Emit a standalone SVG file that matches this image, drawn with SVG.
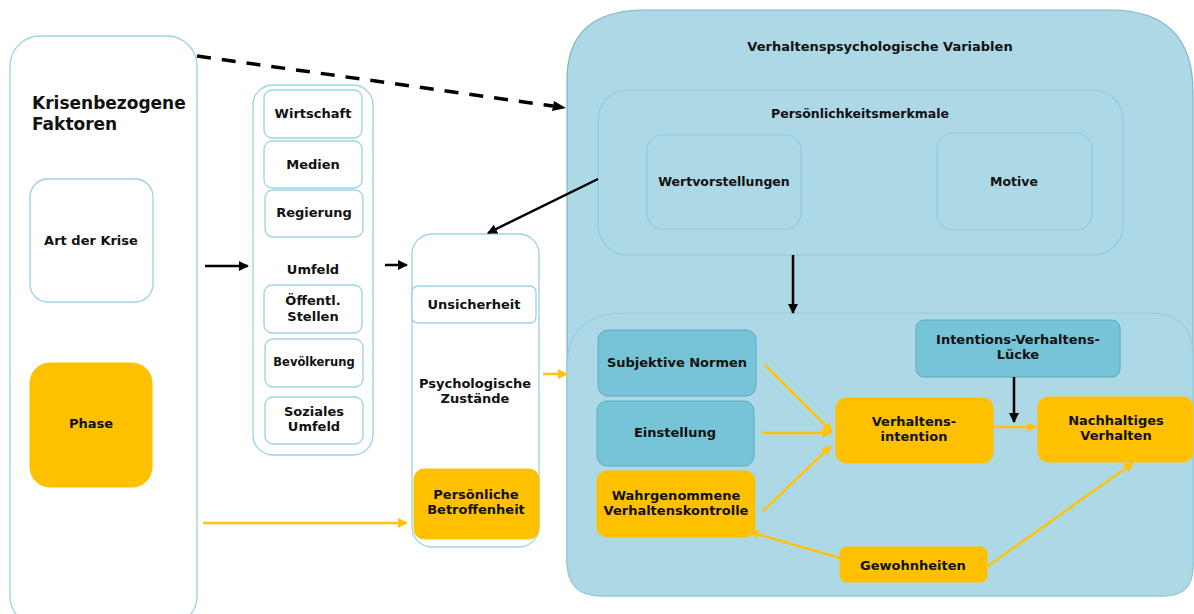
<svg xmlns="http://www.w3.org/2000/svg" width="1194" height="614" viewBox="0 0 1194 614">
<defs>
<style>
text{font-family:"DejaVu Sans","Liberation Sans",sans-serif;font-weight:bold;fill:#111;text-anchor:middle;font-size:13px}
.t{font-size:12.5px}
.white{fill:#fff;stroke:#9ad3e3;stroke-width:1.3}
.orange{fill:#FFC000;stroke:#FFC000}
.blue{fill:#76C4D7;stroke:#5FA8BC;stroke-width:1}
.lb{fill:#ADD9E6;stroke:#7FB4C5;stroke-width:1.2}
.inner{fill:#ADD9E6;stroke:#92CADB;stroke-width:1.2}
.c{fill:none;stroke:#ffc20e;stroke-width:2.5}
.k{fill:none;stroke:#000;stroke-width:2.5}
</style>
<marker id="ao" viewBox="0 0 10 10" refX="9" refY="5" markerWidth="4" markerHeight="4" orient="auto" markerUnits="strokeWidth"><path d="M0,0 L10,5 L0,10 z" fill="#ffc20e"/></marker>
<marker id="ak" viewBox="0 0 10 10" refX="9" refY="5" markerWidth="4" markerHeight="4" orient="auto" markerUnits="strokeWidth"><path d="M0,0 L10,5 L0,10 z" fill="#000"/></marker>
</defs>
<rect width="1194" height="614" fill="#fff"/>

<g id="krisen">
<rect class="white" x="10" y="36" width="187" height="590" rx="30"/>
<text x="32" y="109" style="font-size:17px;text-anchor:start">Krisenbezogene</text>
<text x="32" y="130" style="font-size:17px;text-anchor:start">Faktoren</text>
</g>
<g id="art"><rect class="white" x="30" y="179" width="123" height="123" rx="18"/><text x="91" y="245">Art der Krise</text></g>
<g id="phase"><rect class="orange" x="30" y="363" width="122" height="124" rx="20"/><text x="91" y="428">Phase</text></g>

<g id="umfeld">
<rect class="white" x="253" y="85" width="120" height="370" rx="20"/>
<text x="313" y="274">Umfeld</text>
</g>
<g id="wirtschaft"><rect class="white" x="264" y="90" width="98" height="48" rx="8"/><text x="313" y="118">Wirtschaft</text></g>
<g id="medien"><rect class="white" x="264" y="141" width="98" height="47" rx="8"/><text x="313" y="169">Medien</text></g>
<g id="regierung"><rect class="white" x="265" y="190" width="98" height="47" rx="8"/><text x="314" y="217">Regierung</text></g>
<g id="oeffentl"><rect class="white" x="264" y="285" width="98" height="48" rx="8"/><text x="313" y="305">Öffentl.</text><text x="313" y="321">Stellen</text></g>
<g id="bevoelkerung"><rect class="white" x="265" y="339" width="98" height="48" rx="8"/><text x="314" y="366" style="font-size:11.5px">Bevölkerung</text></g>
<g id="soziales"><rect class="white" x="265" y="397" width="98" height="47" rx="8"/><text x="314" y="416">Soziales</text><text x="314" y="431">Umfeld</text></g>

<g id="psych">
<rect class="white" x="412" y="234" width="127" height="313" rx="20"/>
<text x="475" y="388">Psychologische</text>
<text x="475" y="403">Zustände</text>
</g>
<g id="unsicherheit"><rect class="white" x="412" y="286" width="124" height="37" rx="6"/><text x="474" y="309">Unsicherheit</text></g>
<g id="betroffenheit"><rect class="orange" x="414" y="469" width="125" height="70" rx="10"/><text x="476" y="499">Persönliche</text><text x="476" y="514">Betroffenheit</text></g>

<g id="verhaltens">
<path class="lb" d="M567,80 Q567,10 645,10 L1110,10 Q1193,10 1193,92 L1193,566 Q1193,596 1163,596 L602,596 Q567,596 567,561 Z"/>
<text x="880" y="51">Verhaltenspsychologische Variablen</text>
</g>
<g id="persoenlichkeit">
<rect class="inner" x="598" y="90" width="525" height="165" rx="30"/>
<text class="t" x="860" y="118">Persönlichkeitsmerkmale</text>
</g>
<g id="wert"><rect class="inner" x="647" y="135" width="154" height="94" rx="16"/><text class="t" x="724" y="186">Wertvorstellungen</text></g>
<g id="motive"><rect class="inner" x="937" y="133" width="155" height="97" rx="16"/><text class="t" x="1014" y="186">Motive</text></g>

<g id="unterbox">
<path d="M567,368 Q567,313 625,313 L1150,313 Q1193,313 1193,356 L1193,566 Q1193,596 1163,596 L602,596 Q567,596 567,561 Z" fill="#ADD9E6" stroke="#95CCDC" stroke-width="1.2"/>
</g>
<g id="normen"><rect class="blue" x="598" y="330" width="158" height="66" rx="10"/><text x="677" y="367">Subjektive Normen</text></g>
<g id="einstellung"><rect class="blue" x="597" y="401" width="157" height="65" rx="10"/><text x="675" y="437">Einstellung</text></g>
<g id="kontrolle"><rect class="orange" x="597" y="471" width="158" height="66" rx="10"/><text x="676" y="500">Wahrgenommene</text><text x="676" y="515">Verhaltenskontrolle</text></g>
<g id="intention"><rect class="orange" x="836" y="398" width="157" height="65" rx="10"/><text x="914" y="426">Verhaltens-</text><text x="914" y="441">intention</text></g>
<g id="nachhaltig"><rect class="orange" x="1038" y="397" width="155" height="65" rx="10"/><text x="1116" y="425">Nachhaltiges</text><text x="1116" y="440">Verhalten</text></g>
<g id="luecke"><rect class="blue" x="916" y="320" width="204" height="57" rx="8"/><text x="1018" y="344">Intentions-Verhaltens-</text><text x="1018" y="359">Lücke</text></g>
<g id="gewohnheiten"><rect class="orange" x="840" y="547" width="147" height="35" rx="6"/><text x="913" y="570">Gewohnheiten</text></g>

<g id="connectors">
<path d="M197,56 L553,106" fill="none" stroke="#000" stroke-width="3.5" stroke-dasharray="14,11"/>
<path d="M566,108 L552,111 L554,101 Z" fill="#000"/>
<path class="k" d="M205,266 L248,266" marker-end="url(#ak)"/>
<path class="k" d="M385,265 L407,265" marker-end="url(#ak)"/>
<path class="k" d="M598,179 L488,233" marker-end="url(#ak)"/>
<path class="k" d="M793,255 L793,313" marker-end="url(#ak)"/>
<path class="k" d="M1014,377 L1014,422" marker-end="url(#ak)"/>
<path class="c" d="M203,523 L407,523" marker-end="url(#ao)"/>
<path class="c" d="M543,374 L567,374" marker-end="url(#ao)"/>
<path class="c" d="M765,365 L832,432" marker-end="url(#ao)"/>
<path class="c" d="M762,433 L831,433" marker-end="url(#ao)"/>
<path class="c" d="M763,511 L831,446" marker-end="url(#ao)"/>
<path class="c" d="M994,427 L1036,427" marker-end="url(#ao)"/>
<path class="c" d="M840,558 L750,532" marker-end="url(#ao)"/>
<path class="c" d="M988,566 L1133,463" marker-end="url(#ao)"/>
</g>
</svg>
